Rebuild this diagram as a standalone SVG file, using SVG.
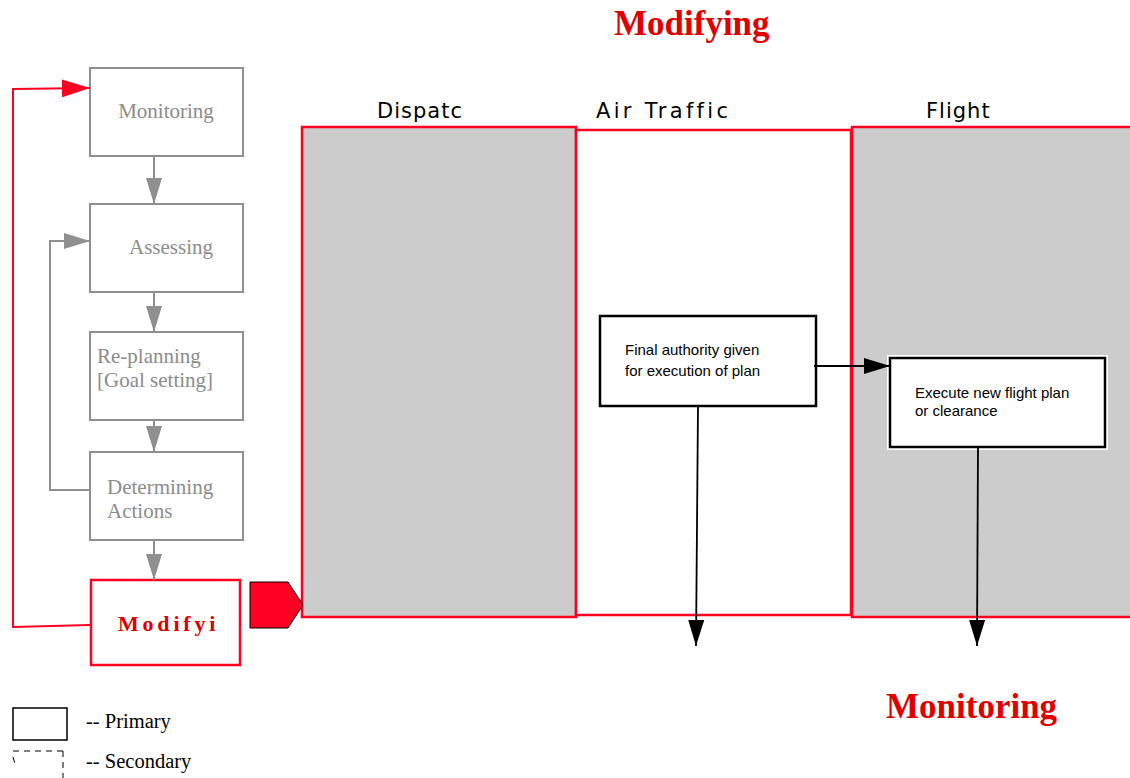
<svg xmlns="http://www.w3.org/2000/svg" width="1130" height="778" viewBox="0 0 1130 778">
  <style>
    .step { fill: #ffffff; stroke: #8f8f8f; stroke-width: 2; }
    .step-text { font-family: "Liberation Serif", serif; font-size: 21px; fill: #8c8c8c; }
    .lane-grey { fill: #cccccc; stroke: #ff0022; stroke-width: 2.5; }
    .lane-white { fill: #ffffff; stroke: #ff0022; stroke-width: 2.5; }
    .lane-label { font-family: "DejaVu Sans", "Liberation Sans", sans-serif; font-size: 21px; fill: #000000; letter-spacing: 1px; }
    .task { fill: #ffffff; stroke: #000000; stroke-width: 2.5; }
    .task-text { font-family: "Liberation Sans", Arial, sans-serif; font-size: 15px; fill: #000000; }
    .title { font-family: "Liberation Serif", serif; font-size: 35px; font-weight: bold; fill: #e00000; }
    .grey-line { fill: none; stroke: #8f8f8f; stroke-width: 2; }
    .red-line { fill: none; stroke: #ff0022; stroke-width: 2; }
    .black-line { fill: none; stroke: #000000; stroke-width: 1.8; }
    .legend-text { font-family: "Liberation Serif", serif; font-size: 20.5px; fill: #000000; }
  </style>
  <defs>
    <marker id="grey-head" viewBox="0 0 26 16" refX="26" refY="8" markerWidth="26" markerHeight="16" markerUnits="userSpaceOnUse" orient="auto">
      <path d="M0,0 L26,8 L0,16 Z" fill="#8f8f8f"/>
    </marker>
    <marker id="red-head" viewBox="0 0 28 18" refX="28" refY="9" markerWidth="28" markerHeight="18" markerUnits="userSpaceOnUse" orient="auto">
      <path d="M0,0 L28,9 L0,18 Z" fill="#ff0022"/>
    </marker>
    <marker id="black-head" viewBox="0 0 26 16" refX="26" refY="8" markerWidth="26" markerHeight="16" markerUnits="userSpaceOnUse" orient="auto">
      <path d="M0,0 L26,8 L0,16 Z" fill="#000000"/>
    </marker>
  </defs>

  <rect x="0" y="0" width="1130" height="778" fill="#ffffff"/>

  <!-- titles -->
  <text class="title" x="614" y="35">Modifying</text>
  <text class="title" x="886" y="718">Monitoring</text>

  <!-- swim lanes -->
  <g id="lane-dispatch">
    <rect class="lane-grey" x="302" y="127" width="274" height="490"/>
    <text class="lane-label" x="377" y="118">Dispatc</text>
  </g>
  <g id="lane-air-traffic">
    <rect class="lane-white" x="576" y="130" width="275" height="485"/>
    <text class="lane-label" x="596" y="118" textLength="133" lengthAdjust="spacing">Air Traffic</text>
  </g>
  <g id="lane-flight">
    <rect class="lane-grey" x="852" y="127" width="290" height="490" stroke-width="3"/>
    <text class="lane-label" x="926" y="118">Flight</text>
  </g>

  <!-- process steps -->
  <g id="step-monitoring">
    <rect class="step" x="90" y="68" width="153" height="88"/>
    <text class="step-text" x="166" y="118" text-anchor="middle">Monitoring</text>
  </g>
  <g id="step-assessing">
    <rect class="step" x="90" y="204" width="153" height="88"/>
    <text class="step-text" x="129" y="254">Assessing</text>
  </g>
  <g id="step-replanning">
    <rect class="step" x="90" y="332" width="153" height="88"/>
    <text class="step-text" x="97" y="363">Re-planning</text>
    <text class="step-text" x="97" y="387">[Goal setting]</text>
  </g>
  <g id="step-determining">
    <rect class="step" x="90" y="452" width="153" height="88"/>
    <text class="step-text" x="107" y="494">Determining</text>
    <text class="step-text" x="107" y="518">Actions</text>
  </g>
  <g id="step-modifying">
    <rect x="91" y="580" width="149" height="85" fill="#ffffff" stroke="#ff0022" stroke-width="2.5"/>
    <text x="118" y="631" font-family="Liberation Serif, serif" font-size="22" font-weight="bold" fill="#dd0000" letter-spacing="3.8">Modifyi</text>
  </g>
  <g id="pointer">
    <path d="M250,582 L288,582 L303,605 L288,628 L250,628 Z" fill="#ff0022" stroke="#000000" stroke-width="1"/>
  </g>

  <!-- tasks -->
  <g id="task-final-authority">
    <rect class="task" x="600" y="316" width="216" height="90"/>
    <text class="task-text" x="625" y="355">Final authority given</text>
    <text class="task-text" x="625" y="376">for execution of plan</text>
  </g>
  <g id="task-execute">
    <rect x="887" y="355" width="221" height="95" fill="#ffffff"/>
    <rect class="task" x="890" y="358" width="215" height="89"/>
    <text class="task-text" x="915" y="398">Execute new flight plan</text>
    <text class="task-text" x="915" y="416">or clearance</text>
  </g>

  <!-- connectors -->
  <g id="connectors">
    <line class="grey-line" x1="154" y1="156" x2="154" y2="204" marker-end="url(#grey-head)"/>
    <line class="grey-line" x1="154" y1="292" x2="154" y2="332" marker-end="url(#grey-head)"/>
    <line class="grey-line" x1="154" y1="420" x2="154" y2="452" marker-end="url(#grey-head)"/>
    <line class="grey-line" x1="154" y1="540" x2="154" y2="580" marker-end="url(#grey-head)"/>
    <polyline class="grey-line" points="90,490 50,490 50,241 90,241" marker-end="url(#grey-head)"/>
    <polyline class="red-line" points="90,625 13,627 13,89 90,88" marker-end="url(#red-head)"/>
    <line class="black-line" x1="814" y1="366" x2="890" y2="366" marker-end="url(#black-head)"/>
    <line class="black-line" x1="698" y1="406" x2="696" y2="646" marker-end="url(#black-head)"/>
    <line class="black-line" x1="978" y1="447" x2="977" y2="646" marker-end="url(#black-head)"/>
  </g>

  <!-- legend -->
  <g id="legend">
    <rect x="13" y="708" width="54" height="32" fill="#ffffff" stroke="#000000" stroke-width="1.5"/>
    <text class="legend-text" x="86" y="728">-- Primary</text>
    <path d="M13,751 L63,751 M63,751 L63,778 M13,757 L16,767" fill="none" stroke="#000000" stroke-width="1" stroke-dasharray="6,5"/>
    <text class="legend-text" x="86" y="768">-- Secondary</text>
  </g>
</svg>
